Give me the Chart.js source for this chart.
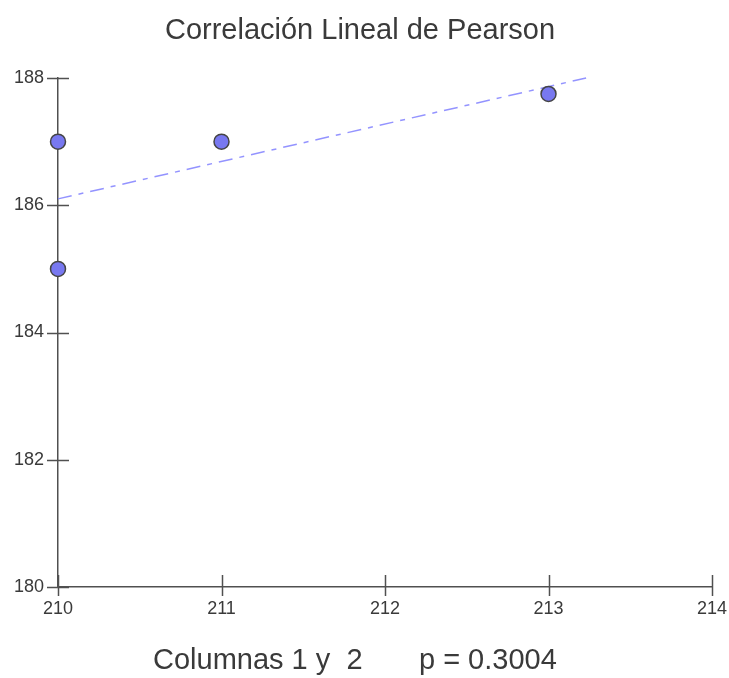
<!DOCTYPE html>
<html>
<head>
<meta charset="utf-8">
<script src="https://cdn.jsdelivr.net/npm/chart.js@4"></script>
<style>
html,body{margin:0;padding:0;background:#ffffff;}
#wrap{width:729px;height:678px;}
</style>
</head>
<body>
<div id="wrap"><canvas id="c" width="729" height="678"></canvas></div>
<script>
// ---- data ----
const chartTitle = 'Correlación Lineal de Pearson';
const footerText = 'Columnas 1 y  2       p = 0.3004';
const xValues = [210, 210, 211, 213];
const yValues = [187, 185, 187, 187.75];
const fitX = [210, 213.23];
const fitY = [186.1, 188.0];
const xTicks = [210, 211, 212, 213, 214];
const yTicks = [180, 182, 184, 186, 188];

// ---- styles ----
const AXIS = '#505050';
const TEXT = '#3a3a3a';
const FONT = "'Liberation Sans', Arial, sans-serif";

const points = xValues.map((x, i) => ({ x: x, y: yValues[i] }));
const fitLine = fitX.map((x, i) => ({ x: x, y: fitY[i] }));

const decor = {
  id: 'decor',
  beforeDatasetsDraw(chart) {
    const ctx = chart.ctx;
    const xs = chart.scales.x, ys = chart.scales.y;
    const a = chart.chartArea;
    ctx.save();
    ctx.strokeStyle = AXIS;
    ctx.lineWidth = 1.5;
    ctx.beginPath();
    yTicks.forEach(v => {
      const py = Math.round(ys.getPixelForValue(v)) + 0.5;
      ctx.moveTo(a.left - 11, py);
      ctx.lineTo(a.left + 11, py);
    });
    xTicks.forEach(v => {
      const px = Math.round(xs.getPixelForValue(v)) + 0.5;
      ctx.moveTo(px, a.bottom - 12);
      ctx.lineTo(px, a.bottom + 9);
    });
    ctx.stroke();
    ctx.restore();
  },
  afterDraw(chart) {
    const ctx = chart.ctx;
    ctx.save();
    ctx.fillStyle = TEXT;
    ctx.font = '29px ' + FONT;
    ctx.textBaseline = 'alphabetic';
    ctx.textAlign = 'center';
    ctx.fillText(chartTitle, 360, 39);
    ctx.textAlign = 'left';
    ctx.fillText(footerText, 153, 669);
    ctx.restore();
  }
};

new Chart(document.getElementById('c'), {
  type: 'scatter',
  data: {
    datasets: [
      {
        data: points,
        pointRadius: 7.5,
        pointHoverRadius: 7.5,
        pointBackgroundColor: '#7878f0',
        pointBorderColor: '#454545',
        pointBorderWidth: 1.5,
        showLine: false,
        clip: false,
        order: 1
      },
      {
        data: fitLine,
        showLine: true,
        pointRadius: 0,
        borderColor: 'rgba(120,120,255,0.8)',
        borderWidth: 1.5,
        borderDash: [14, 7, 5, 7],
        fill: false,
        clip: false,
        order: 2
      }
    ]
  },
  options: {
    responsive: false,
    animation: false,
    devicePixelRatio: 1,
    layout: { padding: { top: 78, right: 17, bottom: 0, left: 0 } },
    plugins: {
      legend: { display: false },
      tooltip: { enabled: false },
      title: { display: false }
    },
    scales: {
      x: {
        type: 'linear',
        min: 210,
        max: 214,
        afterBuildTicks: s => { s.ticks = xTicks.map(v => ({ value: v })); },
        afterFit: s => { s.height = 91; s.paddingLeft = 0; s.paddingRight = 0; },
        grid: { drawOnChartArea: false, drawTicks: false },
        border: { color: AXIS, width: 1.5 },
        ticks: { padding: 11, color: TEXT, font: { family: FONT, size: 18 }, maxRotation: 0, autoSkip: false }
      },
      y: {
        type: 'linear',
        min: 180,
        max: 188,
        afterBuildTicks: s => { s.ticks = yTicks.map(v => ({ value: v })); },
        afterFit: s => { s.width = 58; s.paddingTop = 0; s.paddingBottom = 0; },
        grid: { drawOnChartArea: false, drawTicks: false },
        border: { color: AXIS, width: 1.5 },
        ticks: { padding: 14, color: TEXT, font: { family: FONT, size: 18 }, autoSkip: false }
      }
    }
  },
  plugins: [decor]
});
</script>
</body>
</html>
